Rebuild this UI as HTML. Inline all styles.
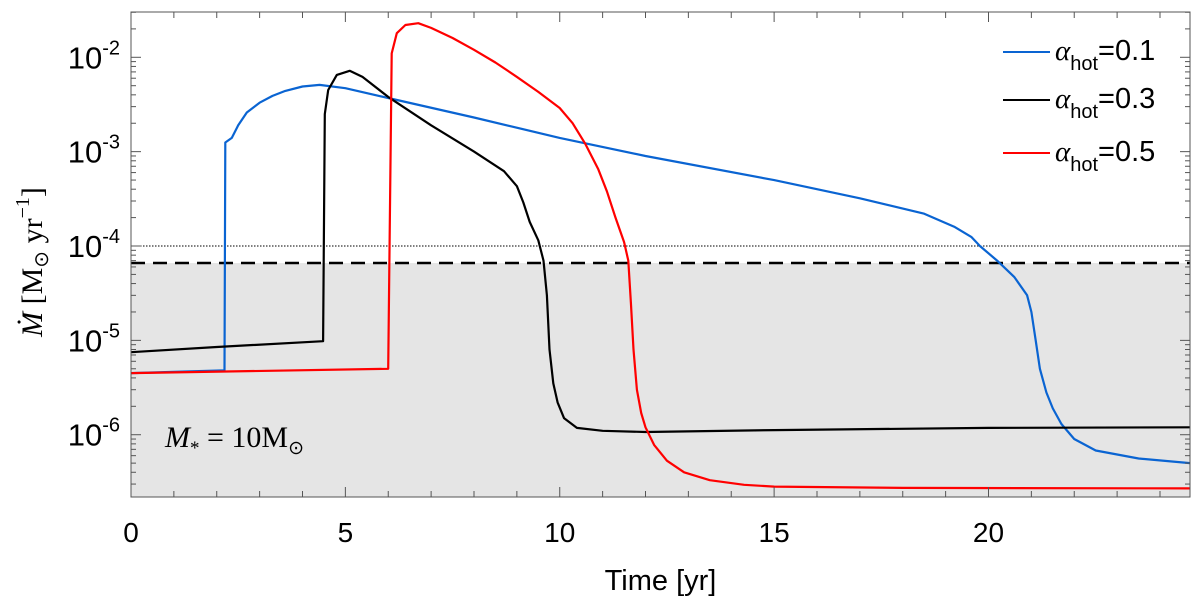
<!DOCTYPE html>
<html><head><meta charset="utf-8"><style>
html,body{margin:0;padding:0;background:#fff;}
svg{display:block;font-family:"Liberation Sans",sans-serif;}
</style></head><body>
<svg id="chart" width="1200" height="611" viewBox="0 0 1200 611"></svg>
<script>
const xTickLabels=[0,5,10,15,20];
const yTickExps=[-2,-3,-4,-5,-6];
const blueT=[0,2.18,2.2,2.35,2.5,2.7,3.0,3.3,3.6,4.0,4.4,5,6,8,10,12,15,17,18.5,19.2,19.6,19.8,20.2,20.6,20.9,21.0,21.1,21.2,21.35,21.5,21.7,22,22.5,23.5,24.7];
const blueV=[4.5e-6,4.8e-6,1.25e-3,1.4e-3,1.9e-3,2.6e-3,3.3e-3,3.9e-3,4.4e-3,4.9e-3,5.1e-3,4.7e-3,3.7e-3,2.3e-3,1.4e-3,9e-4,5e-4,3.2e-4,2.2e-4,1.6e-4,1.25e-4,1e-4,7e-5,4.7e-5,3e-5,2e-5,1e-5,5e-6,2.8e-6,1.9e-6,1.3e-6,9e-7,6.8e-7,5.6e-7,5e-7];
const blackT=[0,2,4.48,4.52,4.6,4.8,5.1,5.4,6,7,8,8.7,9.0,9.15,9.3,9.5,9.62,9.7,9.76,9.85,9.95,10.1,10.4,11,12,15,20,24.7];
const blackV=[7.5e-6,8.5e-6,9.8e-6,2.5e-3,4.5e-3,6.5e-3,7.2e-3,6.2e-3,3.8e-3,1.9e-3,1e-3,6.2e-4,4.3e-4,2.9e-4,1.8e-4,1.15e-4,7e-5,3e-5,8e-6,3.5e-6,2.2e-6,1.5e-6,1.18e-6,1.1e-6,1.07e-6,1.12e-6,1.18e-6,1.2e-6];
const redT=[0,6.0,6.08,6.2,6.4,6.7,7,7.5,8,8.5,9,9.5,10,10.3,10.6,10.9,11.1,11.3,11.5,11.6,11.66,11.72,11.8,11.9,12.0,12.2,12.5,12.9,13.5,14.3,15,18,24.7];
const redV=[4.5e-6,5e-6,1.1e-2,1.8e-2,2.2e-2,2.3e-2,2.05e-2,1.6e-2,1.2e-2,8.8e-3,6.2e-3,4.3e-3,2.9e-3,2e-3,1.2e-3,6.5e-4,3.8e-4,2e-4,1.1e-4,7e-5,2.5e-5,8e-6,3e-6,1.7e-6,1.2e-6,7.8e-7,5.3e-7,4e-7,3.3e-7,2.95e-7,2.82e-7,2.73e-7,2.7e-7];
const dashedLevel=6.6e-5, dottedLevel=1e-4;

const L=131,R=1190,T=12,B=497,XMAX=24.7,YTOP=-1.52,YBOT=-6.66;
const sx=t=>L+(t/XMAX)*(R-L);
const sy=v=>T+(YTOP-Math.log10(v))/(YTOP-YBOT)*(B-T);
const svg=document.getElementById('chart');
const NS='http://www.w3.org/2000/svg';
function mk(tag,attrs,parent){const e=document.createElementNS(NS,tag);for(const k in attrs)e.setAttribute(k,attrs[k]);(parent||svg).appendChild(e);return e;}

let g=mk('rect',{x:L,y:sy(dashedLevel),width:R-L,height:B-sy(dashedLevel),fill:'#e5e5e5'});


g=mk('line',{x1:L,x2:R,y1:sy(dottedLevel),y2:sy(dottedLevel),stroke:'#000','stroke-width':1,'stroke-dasharray':'1.5 1.5'});


g=mk('line',{x1:L,x2:R,y1:sy(dashedLevel),y2:sy(dashedLevel),stroke:'#000','stroke-width':2.5,'stroke-dasharray':'14 8'});



function series(T_,V_,col,name){
  const d=T_.map((t,i)=>(i?'L':'M')+sx(t).toFixed(1)+','+sy(V_[i]).toFixed(1)).join(' ');
  const p=mk('path',{d:d,fill:'none',stroke:col,'stroke-width':2.2,'stroke-linejoin':'round'});
  
  
}
series(blueT,blueV,'#0a64d2','series-alpha-0.1');
series(blackT,blackV,'#000','series-alpha-0.3');
series(redT,redV,'#f00','series-alpha-0.5');

g=mk('rect',{x:L,y:T,width:R-L,height:B-T,fill:'none',stroke:'#555','stroke-width':1});


for(let t=0;t<=24;t++){
  const len=t%5===0?10:6;
  mk('line',{x1:sx(t),x2:sx(t),y1:B,y2:B-len,stroke:'#555'});
  mk('line',{x1:sx(t),x2:sx(t),y1:T,y2:T+len,stroke:'#555'});
}
xTickLabels.forEach(v=>{const e=mk('text',{x:sx(v),y:542,'font-size':28,'text-anchor':'middle'});e.textContent=v;

});
for(let e=-7;e<=-2;e++){
  for(let m=1;m<10;m++){const v=m*Math.pow(10,e);const y=sy(v);if(y<T||y>B)continue;
    const len=m===1?10:5;
    mk('line',{x1:L,x2:L+len,y1:y,y2:y,stroke:'#555'});
    mk('line',{x1:R,x2:R-len,y1:y,y2:y,stroke:'#555'});}
}
yTickExps.forEach(ex=>{const t=mk('text',{x:120,y:sy(Math.pow(10,ex))+11,'font-size':31,'text-anchor':'end'});


t.innerHTML='10<tspan dy="-14" font-size="20">'+ex+'</tspan>';});
g=mk('text',{x:sx(12.35),y:590,'font-size':29,'text-anchor':'middle'});g.textContent='Time [yr]';


g=mk('text',{transform:'translate(42,262) rotate(-90)','font-size':30,'text-anchor':'middle','font-family':'Liberation Serif, serif'});
g.innerHTML='<tspan font-style="italic">Ṁ</tspan> [M<tspan font-size="20" dy="6">⊙</tspan><tspan dy="-6"> yr</tspan><tspan dy="-13" font-size="20">−1</tspan><tspan dy="13">]</tspan>';


g=mk('text',{x:165,y:447,'font-size':30,'font-family':'Liberation Serif, serif'});
g.innerHTML='<tspan font-style="italic">M</tspan><tspan font-size="19" dy="7">*</tspan><tspan dy="-7"> = 10M</tspan><tspan font-size="19" dy="7">⊙</tspan>';


const legCols=['#0a64d2','#000','#f00'],legVals=['0.1','0.3','0.5'],legY=[52,100,153];
legVals.forEach((v,i)=>{
  const lg=mk('g',{});
  
  
  mk('line',{x1:1003,x2:1050,y1:legY[i],y2:legY[i],stroke:legCols[i],'stroke-width':2},lg);
  const t=mk('text',{x:1055,y:legY[i]+8,'font-size':29},lg);
  t.innerHTML='<tspan font-family="Liberation Serif, serif" font-style="italic">α</tspan><tspan font-size="20" dy="10">hot</tspan><tspan dy="-10">='+v+'</tspan>';
});
</script>
</body></html>
